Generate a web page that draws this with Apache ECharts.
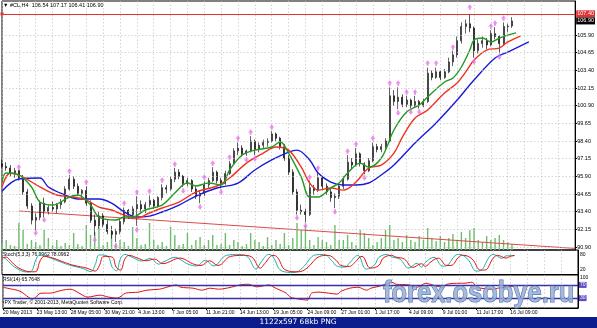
<!DOCTYPE html>
<html><head><meta charset="utf-8">
<script src="https://cdn.jsdelivr.net/npm/echarts@6/dist/echarts.min.js"></script>
<style>html,body{margin:0;padding:0;background:#fff;overflow:hidden}#c{width:597px;height:328px}</style>
</head><body><div id="c"></div>
<script>
// ---------- data ----------
const tickLabels = ["20 May 2013","23 May 13:00","28 May 05:00","30 May 21:00","4 Jun 13:00","7 Jun 05:00","11 Jun 21:00","14 Jun 13:00","19 Jun 05:00","24 Jun 09:00","27 Jun 01:00","1 Jul 17:00","4 Jul 09:00","9 Jul 01:00","11 Jul 17:00","16 Jul 09:00"];
const priceTicks = [90.90,92.15,93.40,94.65,95.90,97.15,98.40,99.65,100.90,102.15,103.40,104.65,105.90];
const levelPrice = 107.40;
const lastPrice = 106.90;
// bars: [open, high, low, close]
const bars = [
[96.8,97.1,96.5,96.6],[96.6,96.9,96.3,96.5],[96.5,96.7,95.9,96.1],[96.1,96.5,95.8,96.3],[96.3,96.35,95.6,95.8],
[95.8,96.0,94.6,94.8],[94.8,95.0,93.6,93.8],[93.8,94.0,92.5,92.8],[92.8,93.3,92.1,93.0],[93.0,94.2,92.8,94.0],
[94.0,94.4,93.0,93.4],[93.4,93.9,93.2,93.7],[93.7,94.1,93.4,93.6],[93.6,94.0,93.3,93.9],[93.9,94.3,93.6,94.1],
[94.1,95.2,94.0,95.0],[95.0,96.0,94.9,95.7],[95.7,95.9,95.0,95.2],[95.2,95.4,94.5,94.7],[94.7,95.0,94.3,94.9],
[94.9,95.2,93.8,94.0],[94.0,94.2,92.6,92.8],[92.8,93.2,91.7,92.4],[92.4,93.4,92.2,93.1],[93.1,93.3,92.3,92.5],
[92.5,92.8,91.8,92.0],[92.0,92.4,91.5,91.8],[91.8,92.2,91.25,92.0],[92.0,92.9,91.8,92.7],[92.7,93.7,92.5,93.5],
[93.5,93.6,92.9,93.2],[93.2,93.8,92.9,93.6],[93.6,94.5,92.4,93.9],[93.9,94.2,93.4,93.6],[93.6,94.1,93.3,93.9],
[93.9,94.55,93.7,94.2],[94.2,94.3,93.6,93.8],[93.8,94.5,93.7,94.4],[94.4,95.35,94.2,95.1],[95.1,95.3,94.7,95.0],
[95.0,95.9,94.9,95.7],[95.7,96.5,95.5,96.2],[96.2,96.4,95.7,95.9],[95.9,96.0,95.15,95.4],[95.4,95.8,95.2,95.6],
[95.6,95.7,94.8,95.0],[95.0,95.2,94.3,94.5],[94.5,94.9,94.0,94.7],[94.7,95.55,94.5,95.3],[95.3,95.8,95.0,95.6],
[95.6,96.55,95.5,96.2],[96.2,96.3,95.4,95.6],[95.6,95.8,95.05,95.4],[95.4,96.3,95.3,96.1],[96.1,97.0,96.0,96.8],
[96.8,97.9,96.7,97.7],[97.7,98.3,97.4,97.9],[97.9,98.1,97.3,97.5],[97.5,97.8,97.35,97.7],[97.7,98.75,97.6,98.4],
[98.4,98.5,97.4,97.8],[97.8,98.3,97.6,98.1],[98.1,98.5,97.9,98.3],[98.3,98.6,98.0,98.4],[98.4,99.1,98.3,98.9],
[98.9,99.0,98.4,98.6],[98.6,98.7,97.8,98.0],[98.0,98.2,97.0,97.2],[97.2,97.4,96.0,96.2],[96.2,96.4,94.6,94.8],
[94.8,95.0,93.2,93.5],[93.5,93.9,93.2,93.4],[93.4,93.6,92.65,93.2],[93.2,95.6,93.1,95.1],[95.1,95.3,94.6,94.9],
[94.9,96.2,94.8,95.8],[95.8,95.9,95.0,95.2],[95.2,95.4,94.6,94.8],[94.8,95.0,94.1,94.4],[94.4,94.7,93.65,94.5],
[94.5,95.4,94.3,95.2],[95.2,95.9,95.0,95.7],[95.7,97.4,95.6,96.9],[96.9,97.2,96.4,96.7],[96.7,97.9,96.6,97.5],
[97.5,97.6,96.6,96.8],[96.8,96.9,96.05,96.3],[96.3,97.2,96.2,97.0],[97.0,98.3,96.9,98.0],[98.0,98.2,97.6,97.8],
[97.8,98.2,97.6,98.0],[98.0,98.6,97.8,98.4],[98.4,102.2,98.3,101.6],[101.6,102.0,100.9,101.2],[101.2,102.2,100.65,101.5],
[101.5,101.7,100.8,101.0],[101.0,101.6,100.8,101.3],[101.3,101.4,100.7,100.9],[100.9,101.6,100.8,101.2],[101.2,101.3,100.7,100.9],
[100.9,101.4,100.8,101.2],[101.2,103.6,101.1,103.2],[103.2,103.4,102.7,102.9],[102.9,103.6,102.8,103.3],[103.3,103.4,102.7,102.9],
[102.9,103.5,102.8,103.3],[103.3,104.3,103.2,104.0],[104.0,104.8,103.7,104.5],[104.5,105.8,104.3,105.5],[105.5,106.8,105.3,106.5],
[106.5,107.0,106.0,106.7],[106.7,107.4,106.1,106.4],[106.4,106.5,104.3,104.8],[104.8,105.6,104.6,105.3],[105.3,105.8,105.0,105.5],
[105.5,105.7,104.9,105.2],[105.2,106.25,105.1,106.0],[106.0,106.45,105.6,105.8],[105.8,105.9,104.6,105.3],[105.3,106.8,105.2,106.5],
[106.5,106.7,106.1,106.54],[106.54,107.17,106.41,106.90]
];
const volume = [6,10,5,4,27,20,6,10,8,5,20,12,5,10,4,7,5,17,6,4,25,15,18,23,5,8,20,6,10,8,4,23,12,5,6,27,10,5,8,4,
23,15,5,6,17,5,10,13,5,10,15,5,6,17,5,10,8,4,6,17,10,8,4,13,5,10,6,17,5,12,27,20,25,10,5,13,10,8,5,25,
10,10,15,8,5,20,17,12,5,8,12,20,25,10,12,8,15,10,8,14,10,22,12,9,14,8,12,16,10,18,12,20,22,10,8,14,10,12,15,10,8,6];
// Alligator lines [bar index, price]
const lips = [[0,95.50],[1,96.14],[4,96.0],[7,95.15],[9,94.08],[12,93.87],[16,94.44],[18,94.58],[21,93.87],[23,93.02],[27,92.81],[29,93.02],[31,93.02],[34,93.52],[38,93.87],[41,94.72],[44,95.43],[46,95.22],[49,95.43],[52,95.29],[54,96.35],[57,97.41],[60,97.76],[64,97.98],[66,98.33],[68,97.55],[71,95.85],[73,94.44],[75,94.44],[78,95.08],[80,95.43],[82,96.14],[85,96.84],[87,96.56],[90,97.20],[93,99.18],[96,100.45],[99,100.95],[101,101.52],[105,102.58],[107,102.86],[109,103.64],[111,104.84],[112,105.55],[114,105.69],[116,105.41],[118,105.69],[120,105.90],[122,106.05]];
const teeth = [[0,95.15],[2,96.14],[5,95.85],[9,95.15],[13,94.58],[17,94.44],[20,94.23],[23,93.73],[26,93.52],[29,93.16],[32,92.95],[35,93.31],[38,93.66],[42,94.08],[46,94.79],[51,95.22],[54,95.78],[58,96.84],[62,97.55],[65,97.98],[68,97.76],[71,96.56],[73,95.43],[75,94.93],[78,95.08],[81,94.93],[84,95.50],[87,96.49],[90,96.70],[93,97.55],[95,98.68],[98,100.03],[101,100.60],[105,101.80],[108,102.51],[110,103.28],[112,104.13],[115,104.84],[118,104.98],[120,105.41],[123,105.83]];
const jaw = [[0,94.85],[4,95.71],[9,95.78],[11,95.15],[15,94.58],[18,94.30],[23,94.30],[26,94.01],[29,93.38],[32,93.02],[35,93.09],[38,93.38],[42,93.87],[46,94.51],[51,95.08],[56,95.43],[60,96.35],[64,97.06],[68,97.62],[70,97.76],[73,97.06],[75,96.14],[78,95.50],[81,95.29],[84,95.29],[87,95.43],[90,96.0],[93,96.70],[98,98.26],[103,99.68],[108,101.30],[112,102.72],[117,104.28],[120,104.70],[125,105.41]];
const fractalUp = [[4,96.56],[16,96.28],[20,95.50],[29,94.01],[32,94.79],[35,94.86],[38,95.64],[41,96.77],[48,95.85],[50,96.84],[54,97.27],[56,98.61],[59,99.04],[64,99.39],[73,95.85],[75,96.49],[82,97.69],[84,98.19],[88,98.61],[92,102.51],[94,102.51],[96,101.87],[98,101.87],[101,103.92],[103,103.92],[107,105.05],[111,107.89],[116,106.54],[117,106.75],[119,107.11]];
const fractalDown = [[8,91.89],[10,92.81],[22,91.40],[27,90.97],[32,92.10],[43,94.86],[47,93.73],[52,94.79],[58,97.06],[60,97.13],[70,92.95],[72,92.39],[79,93.38],[86,95.78],[94,100.38],[97,100.45],[99,100.45],[112,104.0],[118,104.35]];
const trendLine = [[4,93.45],[136,90.80]];
const stochMain = [[0,72],[1,62],[3,30],[6,10],[7,14],[8,60],[9,80],[11,70],[14,50],[16,38],[19,25],[21,12],[22,40],[23,80],[25,74],[26,30],[27,15],[28,66],[29,82],[31,68],[33,55],[35,66],[37,42],[38,50],[41,70],[42,62],[44,42],[46,35],[48,58],[50,35],[53,78],[56,82],[58,72],[60,22],[61,46],[63,82],[64,72],[66,15],[69,8],[71,28],[74,80],[76,82],[78,54],[79,35],[81,30],[82,46],[84,78],[86,22],[88,40],[89,70],[91,82],[92,72],[94,62],[96,26],[98,46],[99,30],[100,50],[102,70],[104,34],[105,36],[107,78],[108,82],[110,62],[112,14],[113,16],[115,70],[116,82],[118,66],[119,76],[121,77]];
const stochSignal = [[0,67],[1,71],[2,56],[4,26],[7,11],[8,12],[9,56],[10,74],[12,67],[15,48],[17,37],[20,26],[22,14],[23,37],[24,74],[26,71],[27,29],[28,18],[29,63],[30,78],[32,67],[34,56],[36,63],[38,44],[39,48],[42,67],[43,63],[45,44],[47,37],[49,56],[51,37],[54,74],[57,78],[59,71],[61,26],[62,44],[64,78],[65,71],[67,18],[70,11],[72,26],[75,74],[77,78],[79,56],[80,37],[82,33],[83,44],[85,74],[87,26],[89,37],[90,67],[92,78],[93,71],[95,63],[97,29],[99,44],[100,33],[101,48],[103,67],[105,37],[106,37],[108,74],[109,78],[111,63],[113,18],[114,18],[116,67],[117,78],[119,67],[120,74],[121,78]];
const rsi = [[0,63],[1,60],[4,51],[6,33],[7,27],[9,45],[11,45],[14,54],[16,57],[18,45],[20,33],[23,39],[25,33],[27,30],[29,45],[32,48],[34,54],[37,57],[38,60],[41,70],[42,63],[45,60],[47,54],[49,60],[51,57],[54,63],[56,70],[58,72],[60,64],[63,70],[64,63],[67,45],[68,33],[70,27],[72,24],[73,45],[75,48],[77,45],[79,42],[80,51],[82,60],[84,63],[86,54],[87,60],[89,66],[91,75],[92,78],[93,72],[96,70],[98,63],[100,75],[101,72],[104,63],[105,72],[108,75],[109,75],[111,78],[112,63],[113,60],[116,57],[117,60],[119,63],[121,65.76]];
const stochLevels = [20, 80];
const rsiLevels = [70, 30];
const titleText = "\u25BC #CL,H4  106.54 107.17 106.41 106.90";
const stochText = "Stoch(5,3,3) 76.9962 78.0962";
const rsiText = "RSI(14) 65.7648";
const copyText = "IPX Trader, \u00A9 2001-2013, MetaQuotes Software Corp.";
const footerText = "1122x597 68kb PNG";
const watermark = "forex.osobye.ru";

// ---------- chart ----------
const NCAT = 137;
const categories = Array.from({length: NCAT}, (_, i) => 'b' + i);
const showTick = (idx) => idx % 8 === 0 && idx / 8 < tickLabels.length;
const F = '"Liberation Sans", Arial, sans-serif';
const gridStyle = {color: '#c2c2c2', type: [1.5, 2], width: 0.7};

function xAx(gi, withLabels) {
  return {
    type: 'category', gridIndex: gi, data: categories, boundaryGap: false,
    axisLine: {show: withLabels, lineStyle: {color: '#000', width: 1}},
    axisTick: {show: withLabels, interval: showTick, length: 2, lineStyle: {color: '#000'}},
    axisLabel: {show: withLabels, interval: showTick, align: 'left', margin: 2, fontSize: 5, color: '#000', fontFamily: F,
      formatter: (v, idx) => tickLabels[idx / 8] || ''},
    splitLine: {show: true, interval: 3, lineStyle: gridStyle}
  };
}

const chart = echarts.init(document.getElementById('c'), null, {renderer: 'canvas'});
const upPath = 'path://M5,0 L10,6 L7,6 L7,10 L3,10 L3,6 L0,6 Z';

const mainMarks = priceTicks.map(v => ({yAxis: v, lineStyle: gridStyle, label: {show: false}}));
mainMarks.push({yAxis: levelPrice, symbol: ['rect', 'none'], symbolSize: 3,
  lineStyle: {color: '#e03030', width: 1, type: 'solid'},
  label: {show: true, position: 'end', distance: 1, formatter: levelPrice.toFixed(2), backgroundColor: '#e03030',
    color: '#fff', fontSize: 5.5, fontFamily: F, padding: [1, 1, 0, 1]}});
mainMarks.push({yAxis: lastPrice, lineStyle: {color: 'rgba(0,0,0,0)', width: 0.1},
  label: {show: true, position: 'end', distance: 1, formatter: lastPrice.toFixed(2), backgroundColor: '#000',
    color: '#fff', fontSize: 5.5, fontFamily: F, padding: [1, 1, 0, 1]}});

const option = {
  animation: false,
  backgroundColor: '#fff',
  grid: [
    {left: 2, right: 19, top: 1, height: 249, show: true, borderColor: '#000', borderWidth: 1},
    {left: 2, right: 19, top: 250, height: 24.5, show: true, borderColor: '#000', borderWidth: 1},
    {left: 2, right: 19, top: 275, height: 33, show: true, borderColor: '#000', borderWidth: 1}
  ],
  xAxis: [xAx(0, false), xAx(1, false), xAx(2, true)],
  yAxis: [
    {type: 'value', gridIndex: 0, position: 'right', min: 90.69, max: 108.31, scale: true,
      axisLine: {show: true, lineStyle: {color: '#000'}}, splitLine: {show: false},
      axisTick: {show: true, length: 2, customValues: priceTicks, lineStyle: {color: '#000'}},
      axisLabel: {customValues: priceTicks, formatter: v => v.toFixed(2), fontSize: 5.5, color: '#000', margin: 2, fontFamily: F}},
    {type: 'value', gridIndex: 0, min: 0, max: 249, show: false},
    {type: 'value', gridIndex: 1, position: 'right', min: 0, max: 100,
      axisLine: {show: true, lineStyle: {color: '#000'}}, splitLine: {show: false},
      axisTick: {show: false},
      axisLabel: {customValues: stochLevels, fontSize: 5, color: '#000', margin: 2, fontFamily: F}},
    {type: 'value', gridIndex: 2, position: 'right', min: 0, max: 100,
      axisLine: {show: true, lineStyle: {color: '#000'}}, splitLine: {show: false},
      axisTick: {show: false},
      axisLabel: {customValues: [100], fontSize: 5, color: '#000', margin: 2, fontFamily: F, verticalAlign: 'top'}}
  ],
  series: [
    {type: 'bar', xAxisIndex: 0, yAxisIndex: 1, data: volume, barWidth: 1.4, silent: true, z: 1,
      itemStyle: {color: '#6dbd6d'}},
    {type: 'line', xAxisIndex: 0, yAxisIndex: 0, data: trendLine, symbol: 'none', silent: true, z: 2,
      lineStyle: {color: '#dd4a4a', width: 1},
      markLine: {silent: true, symbol: ['none', 'none'], animation: false, data: mainMarks}},
    {type: 'candlestick', xAxisIndex: 0, yAxisIndex: 0, barWidth: 1.5, z: 3,
      data: bars.map(b => [b[0], b[3], b[2], b[1]]),
      itemStyle: {color: '#444', color0: '#111', borderColor: '#222', borderColor0: '#111', borderWidth: 0.7}},
    {type: 'line', xAxisIndex: 0, yAxisIndex: 0, data: jaw, symbol: 'none', smooth: 0.35, z: 4,
      lineStyle: {color: '#1a1ad8', width: 1.4}},
    {type: 'line', xAxisIndex: 0, yAxisIndex: 0, data: teeth, symbol: 'none', smooth: 0.35, z: 4,
      lineStyle: {color: '#ee3322', width: 1.4}},
    {type: 'line', xAxisIndex: 0, yAxisIndex: 0, data: lips, symbol: 'none', smooth: 0.35, z: 4,
      lineStyle: {color: '#229922', width: 1.4}},
    {type: 'scatter', xAxisIndex: 0, yAxisIndex: 0, data: fractalUp, symbol: upPath, symbolSize: [5, 5.5], z: 5,
      itemStyle: {color: '#ea70ea'}},
    {type: 'scatter', xAxisIndex: 0, yAxisIndex: 0, data: fractalDown, symbol: upPath, symbolRotate: 180, symbolSize: [5, 5.5], z: 5,
      itemStyle: {color: '#ea70ea'}},
    {type: 'line', xAxisIndex: 1, yAxisIndex: 2, data: stochMain, symbol: 'none', smooth: 0.4,
      lineStyle: {color: '#20b2aa', width: 1}},
    {type: 'line', xAxisIndex: 1, yAxisIndex: 2, data: stochSignal, symbol: 'none', smooth: 0.4,
      lineStyle: {color: '#e01010', width: 1}},
    {type: 'line', xAxisIndex: 2, yAxisIndex: 3, data: rsi, symbol: 'none', smooth: 0.3,
      lineStyle: {color: '#e01010', width: 1},
      markLine: {silent: true, symbol: ['none', 'none'], animation: false,
        data: rsiLevels.map(v => ({yAxis: v, lineStyle: {color: '#3b2fa6', width: 1.3, type: 'solid'},
          label: {show: true, position: 'end', distance: 1, formatter: String(v), backgroundColor: '#5b4cc4',
            color: '#fff', fontSize: 5, fontFamily: F, padding: [1, 1, 0, 1]}}))}}
  ],
  graphic: [
    {type: 'text', left: 3, top: 2, style: {text: titleText, font: '5.5px ' + F, fill: '#000'}},
    {type: 'text', left: 3, top: 252, style: {text: stochText, font: '5px ' + F, fill: '#000'}},
    {type: 'text', left: 3, top: 277, style: {text: rsiText, font: '5px ' + F, fill: '#000'}},
    {type: 'text', left: 3, top: 300, style: {text: copyText, font: '5px ' + F, fill: '#000'}},
    {type: 'text', x: 383, y: 279, scaleX: 0.85, z: 50,
      style: {text: watermark, font: 'bold 30px ' + F, fill: 'rgba(150,172,212,0.82)', stroke: '#4d6fae', lineWidth: 1, verticalAlign: 'top'}},
    {type: 'rect', shape: {x: 0, y: 317, width: 597, height: 11}, style: {fill: '#0b1c8c'}, z: 60},
    {type: 'text', x: 298, y: 322.5, z: 61,
      style: {text: footerText, font: '7.5px "DejaVu Sans", sans-serif', fill: '#fff', align: 'center', verticalAlign: 'middle'}}
  ]
};
chart.setOption(option);
</script></body></html>
